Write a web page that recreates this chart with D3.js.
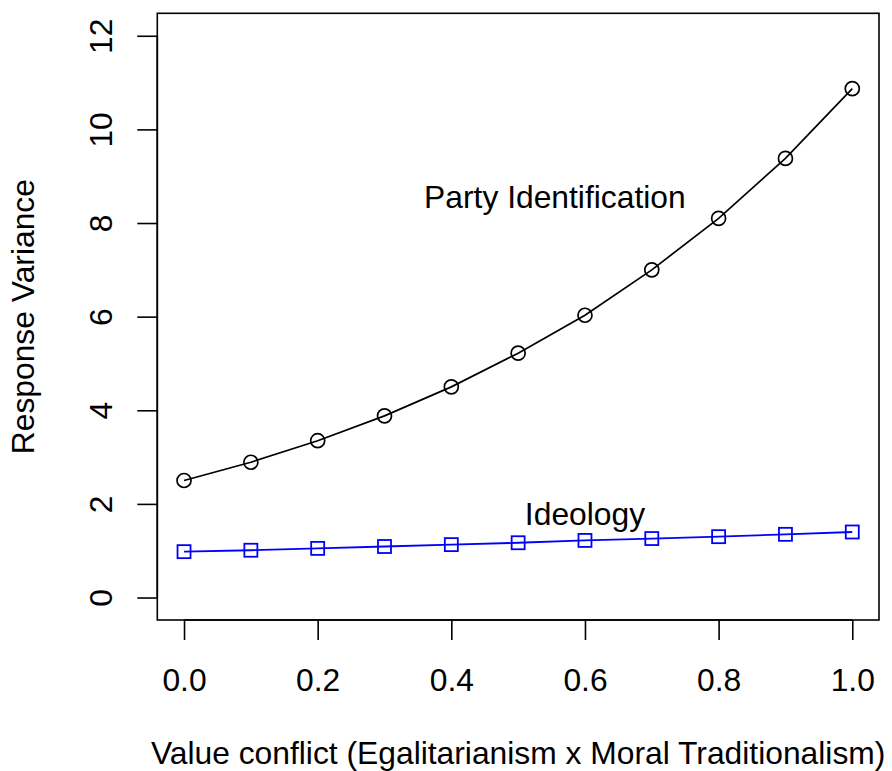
<!DOCTYPE html>
<meta charset="utf-8">
<style>
  body { margin: 0; background: #fff; }
  text { font-family: "Liberation Sans", Arial, sans-serif; fill: #000; }
  .axis path, .axis line { stroke: #000; stroke-width: 1.6px; }
</style>
<svg width="892" height="771"></svg>
<script src="https://cdn.jsdelivr.net/npm/d3@7"></script>
<script>
  var conflict = [0, 0.1, 0.2, 0.3, 0.4, 0.5, 0.6, 0.7, 0.8, 0.9, 1.0];
  var partyId = [2.50, 2.89, 3.35, 3.88, 4.50, 5.22, 6.03, 7.00, 8.10, 9.38, 10.87];
  var ideology = [0.98, 1.01, 1.05, 1.09, 1.13, 1.17, 1.22, 1.26, 1.30, 1.35, 1.40];
  var xTicks = [0, 0.2, 0.4, 0.6, 0.8, 1.0];
  var yTicks = [0, 2, 4, 6, 8, 10, 12];

  var svg = d3.select("svg");
  var fs = 31.8;

  // R style: limits padded by 4%
  var x = d3.scaleLinear().domain([-0.04, 1.04]).range([157.3, 879]);
  var y = d3.scaleLinear().domain([-0.48, 12.48]).range([620, 13.3]);

  // box
  svg.append("rect")
    .attr("x", x(-0.04)).attr("y", y(12.48))
    .attr("width", x(1.04) - x(-0.04)).attr("height", y(-0.48) - y(12.48))
    .attr("fill", "none").attr("stroke", "#000").attr("stroke-width", 1.6);

  // x axis
  var xAxis = svg.append("g").attr("class", "axis")
    .attr("transform", "translate(0," + y(-0.48) + ")")
    .call(d3.axisBottom(x).tickValues(xTicks).tickSize(20).tickSizeOuter(0).tickFormat(d3.format(".1f")));
  xAxis.select(".domain")
    .attr("d", "M" + x(0) + ",0H" + x(1));
  xAxis.selectAll("text")
    .attr("y", 0).attr("dy", null)
    .attr("transform", "translate(0,70.7)")
    .style("font-size", fs + "px").style("font-family", "Liberation Sans, Arial, sans-serif");

  // y axis
  var yAxis = svg.append("g").attr("class", "axis")
    .attr("transform", "translate(" + x(-0.04) + ",0)")
    .call(d3.axisLeft(y).tickValues(yTicks).tickSize(20).tickSizeOuter(0));
  yAxis.select(".domain")
    .attr("d", "M0," + y(0) + "V" + y(12));
  yAxis.selectAll(".tick text")
    .attr("x", null).attr("dy", null)
    .attr("transform", "translate(-45.3,0) rotate(-90)")
    .attr("text-anchor", "middle")
    .style("font-size", fs + "px").style("font-family", "Liberation Sans, Arial, sans-serif");

  // axis titles
  svg.append("text")
    .attr("x", (x(-0.04) + x(1.04)) / 2).attr("y", 763.5)
    .attr("text-anchor", "middle").style("font-size", fs + "px")
    .text("Value conflict (Egalitarianism x Moral Traditionalism)");
  svg.append("text")
    .attr("transform", "translate(34," + (y(-0.48) + y(12.48)) / 2 + ") rotate(-90)")
    .attr("text-anchor", "middle").style("font-size", fs + "px")
    .text("Response Variance");

  var line = d3.line().x(function(d) { return x(d[0]); }).y(function(d) { return y(d[1]); });
  var pData = conflict.map(function(c, i) { return [c, partyId[i]]; });
  var iData = conflict.map(function(c, i) { return [c, ideology[i]]; });

  svg.append("path").datum(pData).attr("d", line)
    .attr("fill", "none").attr("stroke", "#000").attr("stroke-width", 1.7);
  svg.append("g").selectAll("circle").data(pData).enter().append("circle")
    .attr("cx", function(d) { return x(d[0]); })
    .attr("cy", function(d) { return y(d[1]); })
    .attr("r", 7).attr("fill", "none").attr("stroke", "#000").attr("stroke-width", 1.7);

  svg.append("path").datum(iData).attr("d", line)
    .attr("fill", "none").attr("stroke", "#0000ff").attr("stroke-width", 1.8);
  svg.append("g").selectAll("rect").data(iData).enter().append("rect")
    .attr("x", function(d) { return x(d[0]) - 6.5; })
    .attr("y", function(d) { return y(d[1]) - 6.5; })
    .attr("width", 13).attr("height", 13)
    .attr("fill", "none").attr("stroke", "#0000ff").attr("stroke-width", 1.8);

  // labels
  svg.append("text")
    .attr("x", x(0.555)).attr("y", y(8.56)).attr("dy", "0.36em")
    .attr("text-anchor", "middle").style("font-size", fs + "px")
    .text("Party Identification");
  svg.append("text")
    .attr("x", x(0.6)).attr("y", y(1.79)).attr("dy", "0.36em")
    .attr("text-anchor", "middle").style("font-size", fs + "px")
    .text("Ideology");
</script>
